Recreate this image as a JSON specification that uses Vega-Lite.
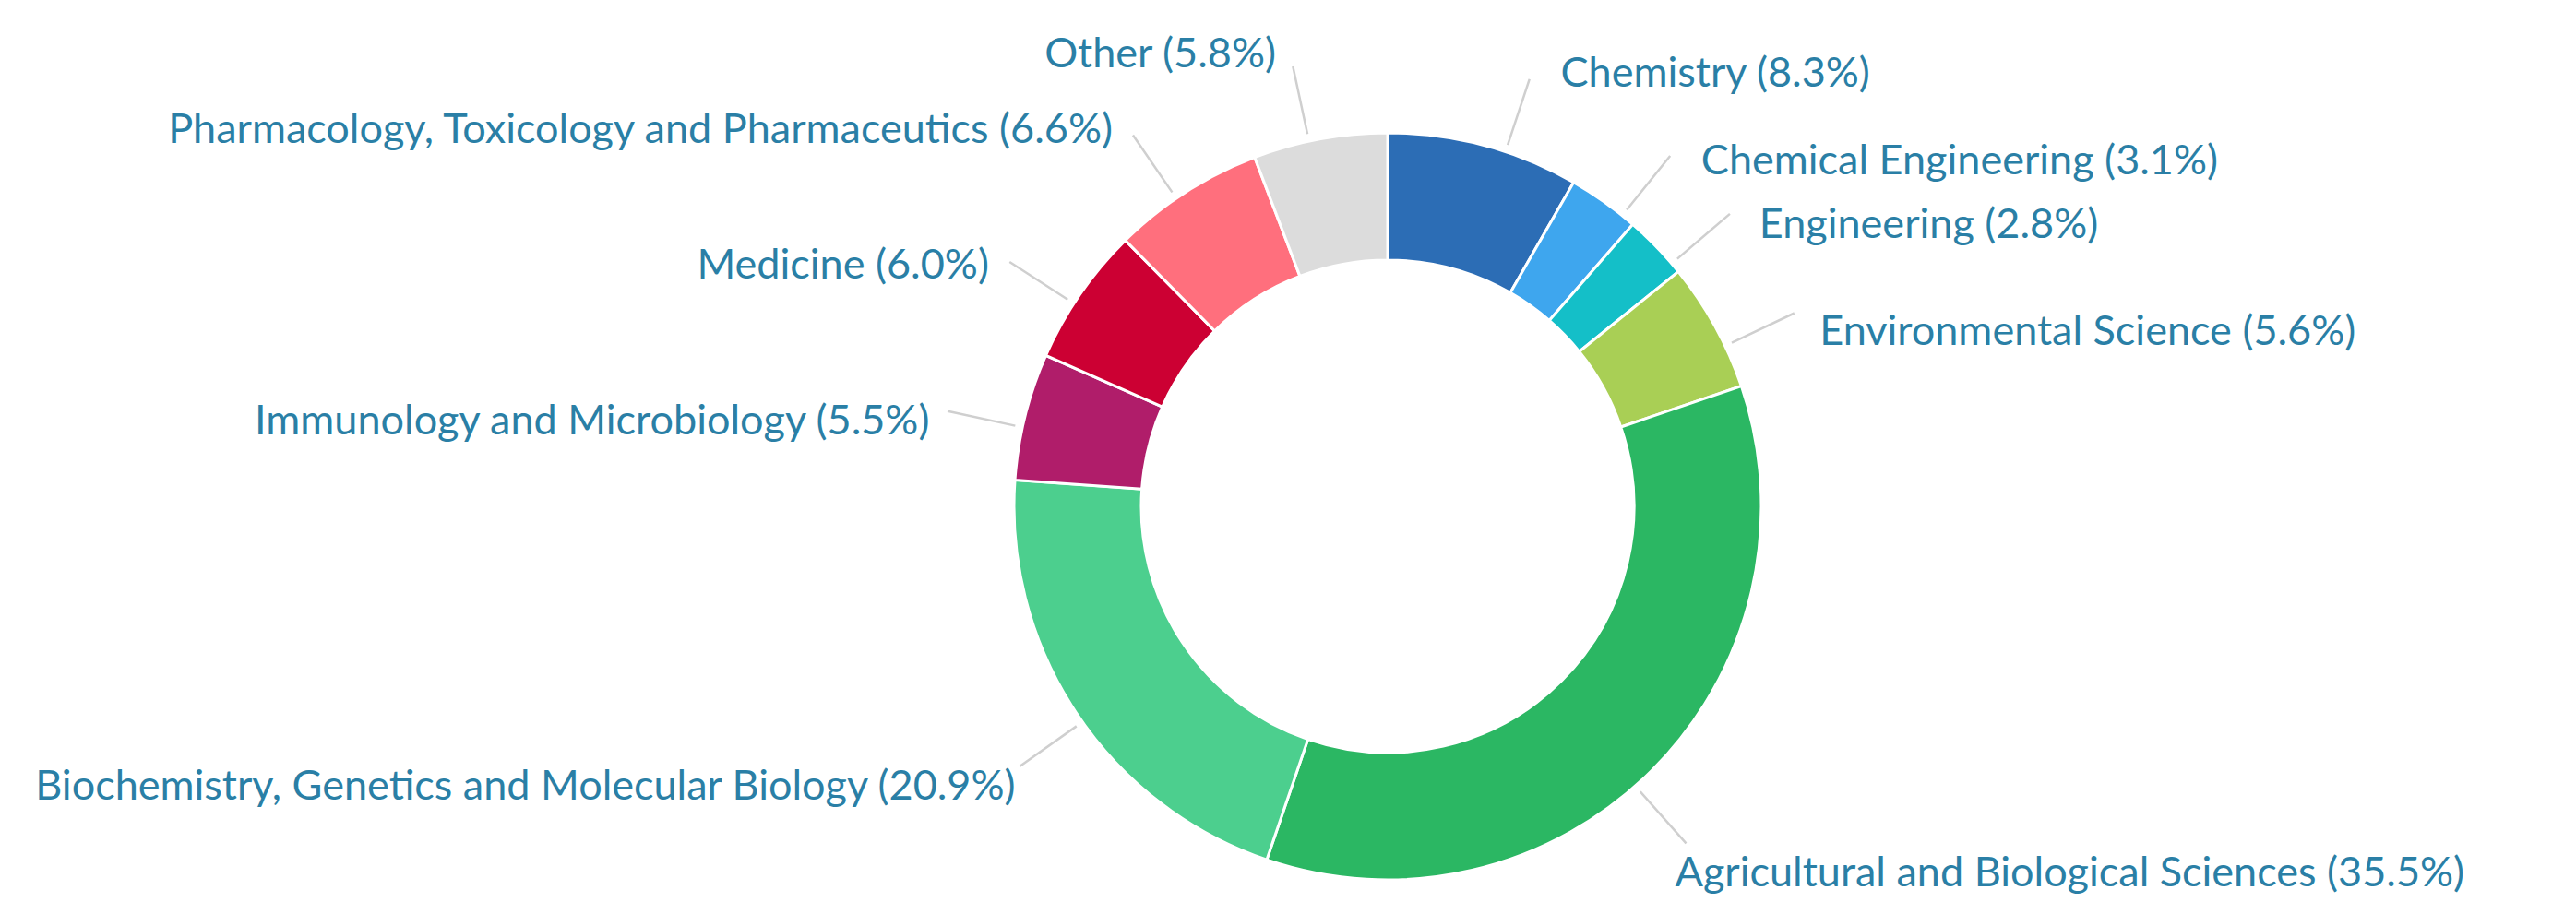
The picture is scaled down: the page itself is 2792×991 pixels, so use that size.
{
  "$schema": "https://vega.github.io/schema/vega-lite/v6.json",
  "width": 2576,
  "height": 884,
  "padding": {"left": 216, "top": 107, "right": 0, "bottom": 0},
  "autosize": {"type": "none"},
  "background": "white",
  "config": {"view": {"stroke": null}},
  "data": {
    "values": [
      {"idx": 1, "name": "Chemistry", "value": 8.3, "label": "Chemistry (8.3%)"},
      {"idx": 2, "name": "Chemical Engineering", "value": 3.1, "label": "Chemical Engineering (3.1%)"},
      {"idx": 3, "name": "Engineering", "value": 2.8, "label": "Engineering (2.8%)"},
      {"idx": 4, "name": "Environmental Science", "value": 5.6, "label": "Environmental Science (5.6%)"},
      {"idx": 5, "name": "Agricultural and Biological Sciences", "value": 35.5, "label": "Agricultural and Biological Sciences (35.5%)"},
      {"idx": 6, "name": "Biochemistry, Genetics and Molecular Biology", "value": 20.9, "label": "Biochemistry, Genetics and Molecular Biology (20.9%)"},
      {"idx": 7, "name": "Immunology and Microbiology", "value": 5.5, "label": "Immunology and Microbiology (5.5%)"},
      {"idx": 8, "name": "Medicine", "value": 6.0, "label": "Medicine (6.0%)"},
      {"idx": 9, "name": "Pharmacology, Toxicology and Pharmaceutics", "value": 6.6, "label": "Pharmacology, Toxicology and Pharmaceutics (6.6%)"},
      {"idx": 10, "name": "Other", "value": 5.8, "label": "Other (5.8%)"}
    ]
  },
  "encoding": {
    "theta": {"field": "value", "type": "quantitative", "stack": true},
    "order": {"field": "idx", "type": "quantitative"},
    "detail": {"field": "name", "type": "nominal"}
  },
  "layer": [
    {
      "mark": {"type": "arc", "outerRadius": 405, "innerRadius": 267, "stroke": "white", "strokeWidth": 3},
      "encoding": {
        "color": {
          "field": "name",
          "type": "nominal",
          "legend": null,
          "scale": {
            "domain": ["Chemistry", "Chemical Engineering", "Engineering", "Environmental Science", "Agricultural and Biological Sciences", "Biochemistry, Genetics and Molecular Biology", "Immunology and Microbiology", "Medicine", "Pharmacology, Toxicology and Pharmaceutics", "Other"],
            "range": ["#2c6db5", "#3ea6ee", "#14bfc8", "#a9cf55", "#2bb763", "#4ccf8e", "#b01d6a", "#cc0033", "#ff6f7d", "#dcdcdc"]
          }
        }
      }
    },
    {
      "mark": {"type": "arc", "outerRadius": 488, "innerRadius": 413, "padAngle": 3, "thetaOffset": 0.06, "filled": false, "stroke": "#cfcfcf", "strokeWidth": 2.5},
      "encoding": {
        "strokeOpacity": {
          "condition": {"test": "indexof(['Chemistry','Chemical Engineering','Engineering','Environmental Science','Agricultural and Biological Sciences'], datum.name) >= 0", "value": 1},
          "value": 0
        }
      }
    },
    {
      "mark": {"type": "arc", "outerRadius": 488, "innerRadius": 413, "padAngle": 3, "thetaOffset": -0.03, "filled": false, "stroke": "#cfcfcf", "strokeWidth": 2.5},
      "encoding": {
        "strokeOpacity": {
          "condition": {"test": "indexof(['Chemistry','Chemical Engineering','Engineering','Environmental Science','Agricultural and Biological Sciences'], datum.name) >= 0", "value": 0},
          "value": 1
        }
      }
    },
    {
      "mark": {"type": "text", "radius": 505, "thetaOffset": 0.12, "align": "left", "baseline": "middle", "font": "Lato", "fontSize": 45, "fill": "#2a7fa6"},
      "encoding": {
        "text": {"field": "label", "type": "nominal"},
        "opacity": {
          "condition": {"test": "indexof(['Chemistry','Chemical Engineering','Engineering','Environmental Science','Agricultural and Biological Sciences'], datum.name) >= 0", "value": 1},
          "value": 0
        }
      }
    },
    {
      "mark": {"type": "text", "radius": 505, "thetaOffset": -0.06, "align": "right", "baseline": "middle", "font": "Lato", "fontSize": 45, "fill": "#2a7fa6"},
      "encoding": {
        "text": {"field": "label", "type": "nominal"},
        "opacity": {
          "condition": {"test": "indexof(['Chemistry','Chemical Engineering','Engineering','Environmental Science','Agricultural and Biological Sciences'], datum.name) >= 0", "value": 0},
          "value": 1
        }
      }
    }
  ]
}
